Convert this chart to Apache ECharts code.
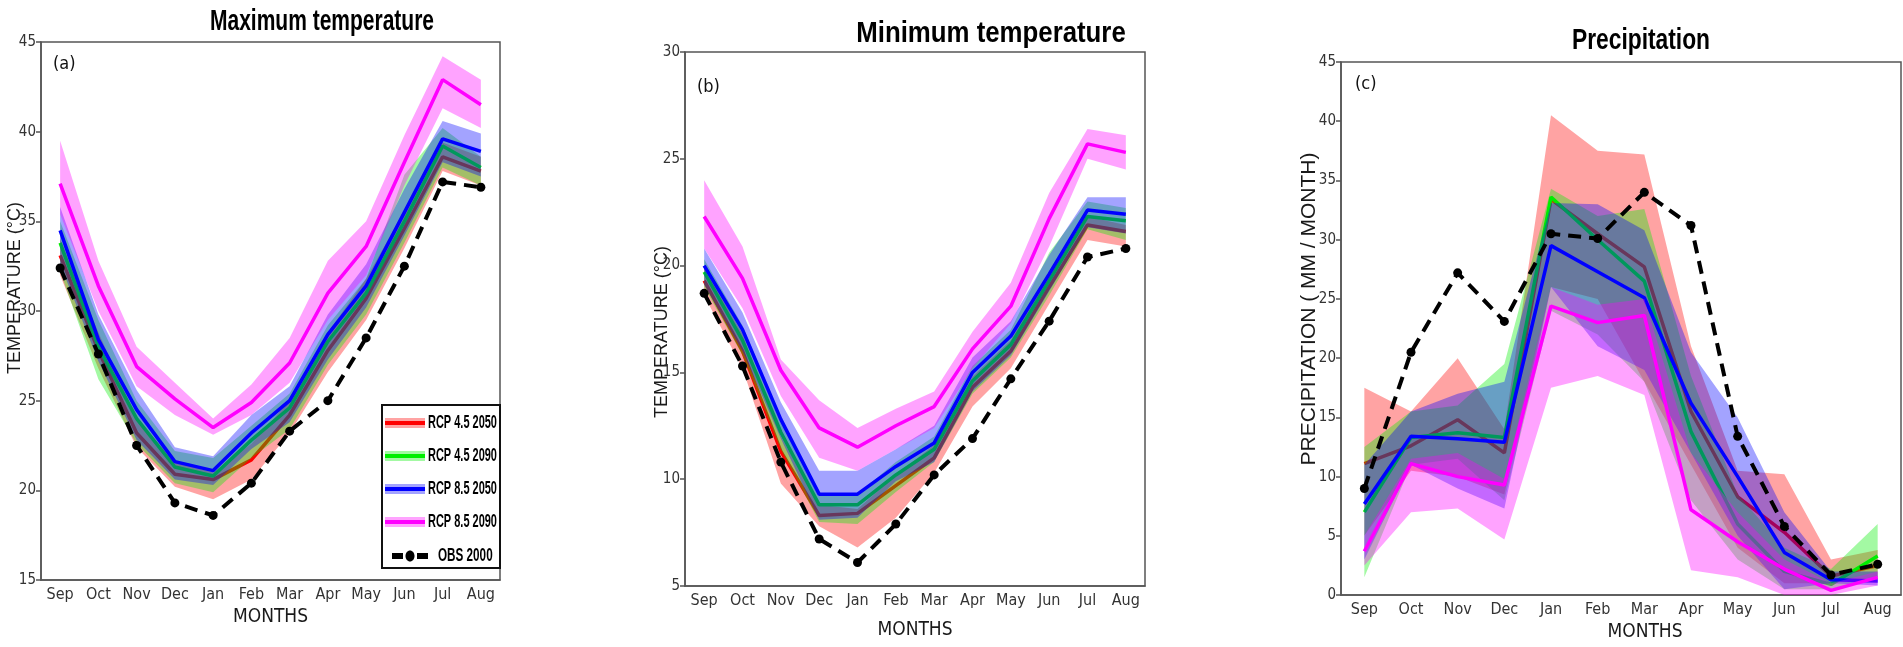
<!DOCTYPE html>
<html>
<head>
<meta charset="utf-8">
<script src="https://cdn.jsdelivr.net/npm/echarts@6/dist/echarts.min.js"></script>
<style>
  html, body { margin: 0; padding: 0; background: #ffffff; }
  #chart { width: 1903px; height: 647px; }
</style>
</head>
<body>
<div id="chart"></div>
<script>
// ---- Categories and labels ----
const months = ['Sep', 'Oct', 'Nov', 'Dec', 'Jan', 'Feb', 'Mar', 'Apr', 'May', 'Jun', 'Jul', 'Aug'];
const scenarioNames = ['RCP 4.5 2050', 'RCP 4.5 2090', 'RCP 8.5 2050', 'RCP 8.5 2090'];
const obsName = 'OBS 2000';
const panelTitles = ['Maximum temperature', 'Minimum temperature', 'Precipitation'];
const panelLetters = ['(a)', '(b)', '(c)'];
const yNames = ['TEMPERATURE (°C)', 'TEMPERATURE (°C)', 'PRECIPITATION ( MM / MONTH)'];
const xName = 'MONTHS';

// ---- (a) Maximum temperature, °C ----
const tmaxObs      = [32.4, 27.6, 22.5, 19.3, 18.6, 20.4, 23.3, 25.0, 28.5, 32.5, 37.2, 36.9];
const tmaxR45y50   = [33.1, 27.8, 23.2, 20.9, 20.6, 21.7, 24.2, 27.8, 30.7, 34.6, 38.6, 37.8];
const tmaxR45y50Lo = [32.0, 26.8, 22.4, 20.2, 19.5, 20.6, 23.2, 26.6, 29.5, 33.5, 37.8, 37.0];
const tmaxR45y50Hi = [34.0, 28.8, 24.0, 21.6, 21.0, 22.6, 25.0, 28.8, 31.8, 35.6, 39.4, 38.6];
const tmaxR45y90   = [33.8, 28.0, 24.0, 21.3, 20.8, 22.8, 24.6, 28.3, 31.0, 35.0, 39.2, 38.0];
const tmaxR45y90Lo = [32.2, 26.2, 22.6, 20.4, 19.9, 21.8, 23.4, 27.0, 29.8, 33.8, 38.0, 37.0];
const tmaxR45y90Hi = [35.0, 29.5, 25.0, 22.2, 21.8, 23.6, 25.4, 29.2, 31.8, 37.6, 40.2, 38.6];
const tmaxR85y50   = [34.5, 28.4, 24.5, 21.6, 21.1, 23.2, 25.0, 28.7, 31.4, 35.5, 39.6, 38.9];
const tmaxR85y50Lo = [32.6, 27.2, 22.8, 20.6, 20.3, 22.3, 23.8, 27.3, 30.2, 34.2, 38.3, 37.5];
const tmaxR85y50Hi = [35.8, 29.8, 25.6, 22.4, 21.9, 24.2, 25.8, 29.8, 32.6, 36.8, 40.6, 39.9];
const tmaxR85y90   = [37.1, 31.4, 26.9, 25.1, 23.5, 24.9, 27.1, 31.0, 33.6, 38.3, 42.9, 41.5];
const tmaxR85y90Lo = [35.4, 30.0, 25.8, 24.2, 23.1, 24.2, 26.0, 29.5, 32.0, 37.0, 41.3, 40.2];
const tmaxR85y90Hi = [39.5, 32.8, 28.0, 26.0, 24.0, 25.9, 28.5, 32.8, 35.0, 39.8, 44.2, 42.9];

// ---- (b) Minimum temperature, °C ----
const tminObs      = [18.7, 15.3, 10.8, 7.2, 6.1, 7.9, 10.2, 11.9, 14.7, 17.4, 20.4, 20.8];
const tminR45y50   = [19.3, 16.0, 11.3, 8.3, 8.4, 9.7, 11.0, 14.3, 16.0, 19.0, 21.9, 21.6];
const tminR45y50Lo = [18.6, 15.2, 9.8, 7.8, 6.8, 8.2, 10.3, 13.4, 15.2, 18.2, 21.2, 20.9];
const tminR45y50Hi = [19.9, 16.8, 12.0, 8.8, 8.6, 10.2, 11.6, 14.8, 16.5, 19.6, 22.3, 21.9];
const tminR45y90   = [19.7, 16.5, 12.2, 8.8, 8.8, 10.2, 11.4, 14.6, 16.3, 19.3, 22.3, 22.1];
const tminR45y90Lo = [19.0, 15.8, 11.4, 8.0, 7.9, 9.4, 10.8, 14.0, 15.7, 18.6, 21.7, 21.2];
const tminR45y90Hi = [20.3, 17.2, 12.9, 9.3, 9.3, 10.8, 12.0, 15.3, 17.0, 20.6, 23.0, 22.7];
const tminR85y50   = [20.0, 17.0, 12.8, 9.3, 9.3, 10.6, 11.7, 15.0, 16.7, 19.6, 22.6, 22.4];
const tminR85y50Lo = [19.1, 16.0, 11.9, 8.1, 8.2, 9.9, 10.8, 14.1, 15.8, 18.8, 21.8, 21.5];
const tminR85y50Hi = [20.8, 17.8, 13.6, 10.4, 10.4, 11.4, 12.5, 15.7, 17.4, 20.5, 23.2, 23.2];
const tminR85y90   = [22.3, 19.4, 15.1, 12.4, 11.5, 12.5, 13.4, 16.1, 18.1, 22.2, 25.7, 25.3];
const tminR85y90Lo = [20.8, 18.0, 13.9, 11.0, 10.4, 11.4, 12.4, 15.2, 17.3, 20.9, 25.0, 24.5];
const tminR85y90Hi = [24.0, 20.9, 15.6, 13.7, 12.4, 13.3, 14.1, 16.9, 19.2, 23.4, 26.4, 26.1];

// ---- (c) Precipitation, mm / month ----
const precObs      = [9.0, 20.5, 27.2, 23.1, 30.5, 30.1, 34.0, 31.2, 13.4, 5.8, 1.7, 2.6];
const precR45y50   = [11.1, 12.6, 14.8, 12.0, 33.4, 30.5, 27.7, 15.5, 8.3, 5.3, 1.6, 2.5];
const precR45y50Lo = [5.0, 10.5, 10.0, 8.5, 26.0, 25.0, 18.0, 11.0, 4.0, 1.0, 1.0, 1.5];
const precR45y50Hi = [17.5, 15.5, 20.0, 14.0, 40.5, 37.5, 37.2, 21.0, 10.5, 10.2, 3.0, 3.8];
const precR45y90   = [7.0, 13.3, 13.7, 13.3, 33.6, 30.0, 26.5, 13.8, 6.0, 2.0, 0.9, 3.3];
const precR45y90Lo = [1.5, 11.0, 11.5, 8.0, 24.0, 22.0, 18.0, 8.0, 3.0, 0.5, 0.5, 1.5];
const precR45y90Hi = [12.5, 15.5, 16.0, 19.5, 34.3, 32.0, 32.6, 18.5, 8.5, 4.0, 2.2, 6.0];
const precR85y50   = [7.7, 13.4, 13.2, 12.9, 29.5, 27.3, 25.1, 16.2, 10.0, 3.6, 1.3, 1.2];
const precR85y50Lo = [3.0, 11.0, 9.0, 7.3, 26.0, 21.0, 19.0, 12.0, 5.0, 0.5, 1.0, 0.8];
const precR85y50Hi = [11.0, 15.5, 17.0, 18.0, 33.1, 33.0, 30.8, 20.5, 15.0, 7.0, 2.0, 2.0];
const precR85y90   = [3.7, 11.1, 10.0, 9.3, 24.4, 23.0, 23.6, 7.2, 4.5, 2.2, 0.4, 1.5];
const precR85y90Lo = [2.5, 7.0, 7.3, 4.7, 17.5, 18.5, 16.9, 2.1, 1.5, 0.0, 0.0, 0.8];
const precR85y90Hi = [5.0, 11.5, 12.0, 9.8, 26.0, 24.5, 25.0, 12.0, 7.0, 3.0, 1.0, 2.0];

// ---- Styling ----
const lineColors = ['#ff0000', '#00ee00', '#0000ff', '#ff00ff'];
const bandColors = ['rgba(255,0,0,0.36)', 'rgba(0,238,0,0.36)', 'rgba(0,0,255,0.36)', 'rgba(255,0,255,0.36)'];
const narrowFont = "'Liberation Sans Narrow', 'Arial Narrow', 'DejaVu Sans Condensed', sans-serif";
const plainFont = "'Liberation Sans', Arial, sans-serif";
const axisGray = '#555555';

const panels = [
  {
    grid: { left: 41, top: 42, width: 459, height: 538 },
    yMin: 15, yMax: 45, nameGap: 26, namePad: [0, 0, 0, 0],
    obs: tmaxObs,
    runs: [
      [tmaxR45y50, tmaxR45y50Lo, tmaxR45y50Hi],
      [tmaxR45y90, tmaxR45y90Lo, tmaxR45y90Hi],
      [tmaxR85y50, tmaxR85y50Lo, tmaxR85y50Hi],
      [tmaxR85y90, tmaxR85y90Lo, tmaxR85y90Hi]
    ]
  },
  {
    grid: { left: 685, top: 52, width: 460, height: 534 },
    yMin: 5, yMax: 30, nameGap: 35, namePad: [0, 0, 0, 0],
    obs: tminObs,
    runs: [
      [tminR45y50, tminR45y50Lo, tminR45y50Hi],
      [tminR45y90, tminR45y90Lo, tminR45y90Hi],
      [tminR85y50, tminR85y50Lo, tminR85y50Hi],
      [tminR85y90, tminR85y90Lo, tminR85y90Hi]
    ]
  },
  {
    grid: { left: 1341, top: 62, width: 560, height: 541 },
    yMin: 0, yMax: 45, nameGap: 23, namePad: [0, 0, 0, 48],
    obs: precObs,
    runs: [
      [precR45y50, precR45y50Lo, precR45y50Hi],
      [precR45y90, precR45y90Lo, precR45y90Hi],
      [precR85y50, precR85y50Lo, precR85y50Hi],
      [precR85y90, precR85y90Lo, precR85y90Hi]
    ]
  }
];

const grids = [], xAxes = [], yAxes = [], series = [];

panels.forEach((p, i) => {
  grids.push(Object.assign({ show: true, borderColor: axisGray, borderWidth: 1.5, backgroundColor: 'transparent' }, p.grid));

  xAxes.push({
    type: 'category', gridIndex: i, data: months, boundaryGap: true,
    axisLine: { lineStyle: { color: axisGray, width: 1.5 } },
    axisTick: { inside: true, length: 7, alignWithLabel: true, interval: 0, lineStyle: { color: axisGray, width: 1.5 } },
    axisLabel: { interval: 0, margin: 7, fontSize: 16, color: '#333', fontFamily: narrowFont },
    splitLine: { show: false },
    name: xName, nameLocation: 'middle', nameGap: p.nameGap,
    nameTextStyle: { fontSize: 19, color: '#1a1a1a', fontFamily: narrowFont, padding: p.namePad }
  });

  yAxes.push({
    type: 'value', gridIndex: i, min: p.yMin, max: p.yMax, interval: 5,
    axisLine: { show: true, lineStyle: { color: axisGray, width: 1.5 } },
    axisTick: { show: true, inside: false, length: 5, lineStyle: { color: axisGray, width: 1.5 } },
    axisLabel: { margin: 5, fontSize: 15, color: '#333', fontFamily: narrowFont },
    splitLine: { show: false }
  });

  // each scenario: spread band, then its mean line; later scenarios are layered over earlier ones
  p.runs.forEach((run, k) => {
    const [mean, lo, hi] = run;
    const stackId = 'band-' + i + '-' + k;
    const zBand = 10 + 2 * k;
    series.push({
      type: 'line', xAxisIndex: i, yAxisIndex: i, data: lo, stack: stackId,
      symbol: 'none', lineStyle: { opacity: 0 }, silent: true, z: zBand
    });
    series.push({
      type: 'line', xAxisIndex: i, yAxisIndex: i, data: hi.map((v, j) => v - lo[j]), stack: stackId,
      symbol: 'none', lineStyle: { opacity: 0 }, areaStyle: { color: bandColors[k], opacity: 1 }, silent: true, z: zBand
    });
    series.push({
      name: scenarioNames[k], type: 'line', xAxisIndex: i, yAxisIndex: i, data: mean,
      symbol: 'none', lineStyle: { color: lineColors[k], width: 3.5 }, z: zBand + 1
    });
  });

  series.push({
    name: obsName, type: 'line', xAxisIndex: i, yAxisIndex: i, data: p.obs,
    symbol: 'circle', symbolSize: 9, itemStyle: { color: '#000' },
    lineStyle: { color: '#000', width: 4, type: [13, 8] }, z: 20
  });
});

// ---- Titles, panel letters, axis names and legend ----
const graphic = [];
const titleStyle = [
  { x: 322, y: 22, sx: 0.70 },
  { x: 991, y: 34, sx: 0.86 },
  { x: 1641, y: 41, sx: 0.76 }
];
panelTitles.forEach((t, i) => {
  graphic.push({
    type: 'text', x: titleStyle[i].x, y: titleStyle[i].y, scaleX: titleStyle[i].sx,
    style: { text: t, font: 'bold 30px ' + plainFont, fill: '#000', align: 'center', verticalAlign: 'middle' }
  });
});
const letterPos = [[53, 64], [697, 87], [1355, 84]];
panelLetters.forEach((t, i) => {
  graphic.push({
    type: 'text', x: letterPos[i][0], y: letterPos[i][1],
    style: { text: t, font: '18px ' + narrowFont, fill: '#111', align: 'left', verticalAlign: 'middle' }
  });
});
const yNameStyle = [[15, 288, 18], [662, 332, 18], [1309, 309, 21]];
yNames.forEach((t, i) => {
  graphic.push({
    type: 'text', x: yNameStyle[i][0], y: yNameStyle[i][1], rotation: Math.PI / 2,
    style: { text: t, font: yNameStyle[i][2] + 'px ' + plainFont, fill: '#1a1a1a', align: 'center', verticalAlign: 'middle' }
  });
});

// legend box inside panel (a)
const legendRows = [423, 456, 489, 522, 556];
const legendChildren = [
  { type: 'rect', shape: { x: 382, y: 405, width: 118, height: 163 }, style: { fill: '#fff', stroke: '#111', lineWidth: 2 } }
];
scenarioNames.forEach((name, k) => {
  const cy = legendRows[k];
  legendChildren.push({ type: 'rect', shape: { x: 385, y: cy - 5, width: 40, height: 10 }, style: { fill: bandColors[k] } });
  legendChildren.push({ type: 'rect', shape: { x: 385, y: cy - 2, width: 40, height: 4 }, style: { fill: lineColors[k] } });
  legendChildren.push({
    type: 'text', x: 428, y: cy, scaleX: 0.61,
    style: { text: name, font: 'bold 18px ' + plainFont, fill: '#000', align: 'left', verticalAlign: 'middle' }
  });
});
const oy = legendRows[4];
legendChildren.push({ type: 'rect', shape: { x: 392, y: oy - 3, width: 11, height: 6 }, style: { fill: '#000' } });
legendChildren.push({ type: 'ellipse', shape: { cx: 410, cy: oy, rx: 4.5, ry: 5.5 }, style: { fill: '#000' } });
legendChildren.push({ type: 'rect', shape: { x: 417, y: oy - 3, width: 11, height: 6 }, style: { fill: '#000' } });
legendChildren.push({
  type: 'text', x: 438, y: oy, scaleX: 0.65,
  style: { text: obsName, font: 'bold 18px ' + plainFont, fill: '#000', align: 'left', verticalAlign: 'middle' }
});
graphic.push({ type: 'group', children: legendChildren, z: 30 });

const chart = echarts.init(document.getElementById('chart'), null, { renderer: 'canvas' });
chart.setOption({
  animation: false,
  backgroundColor: '#ffffff',
  grid: grids,
  xAxis: xAxes,
  yAxis: yAxes,
  series: series,
  graphic: graphic
});
</script>
</body>
</html>
